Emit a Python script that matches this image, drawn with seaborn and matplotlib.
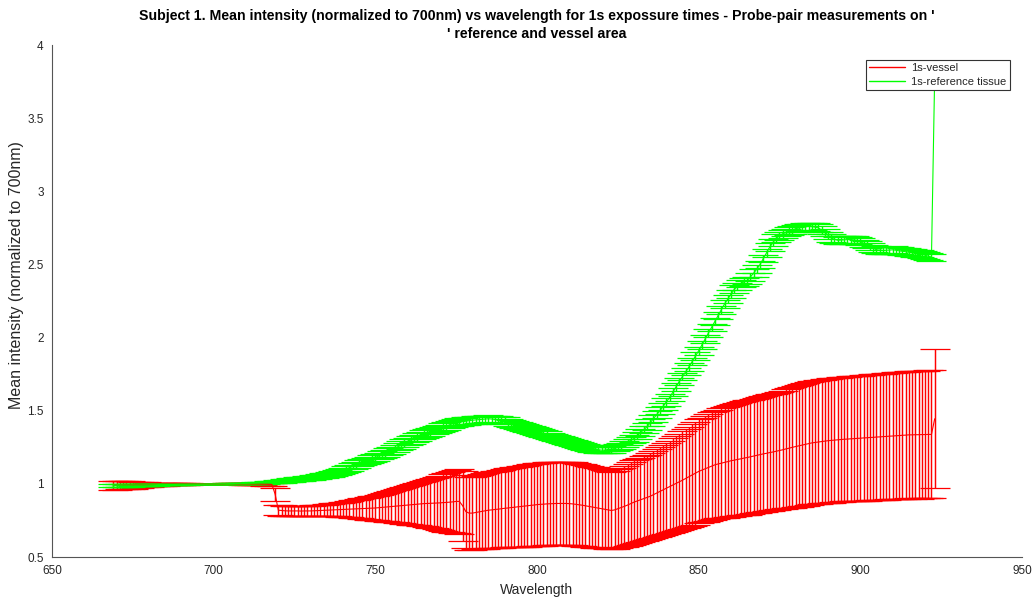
import numpy as np
import pandas as pd
import seaborn as sns
import matplotlib
matplotlib.use("Agg")
import matplotlib.pyplot as plt
from matplotlib.lines import Line2D
from matplotlib.ticker import FuncFormatter

# Wavelength grid (nm), one sample per nm
wavelength = list(range(669, 924))

# 1s-vessel: mean normalized intensity and its error half-width
vessel_mean = [
    0.990,
    0.990, 0.990, 0.991, 0.991, 0.992, 0.992, 0.993, 0.993, 0.994, 0.994,
    0.995, 0.995, 0.996, 0.996, 0.996, 0.997, 0.997, 0.998, 0.998, 0.998,
    0.998, 0.999, 0.999, 0.999, 0.999, 1.000, 1.000, 1.000, 1.000, 1.000,
    1.000, 1.000, 1.000, 1.000, 1.001, 1.001, 1.001, 1.000, 1.000, 1.000,
    1.000, 1.000, 0.999, 0.999, 0.999, 0.998, 0.998, 0.997, 0.996, 0.930,
    0.820, 0.818, 0.816, 0.815, 0.815, 0.815, 0.815, 0.814, 0.815, 0.815,
    0.815, 0.816, 0.817, 0.818, 0.819, 0.820, 0.821, 0.822, 0.823, 0.824,
    0.825, 0.826, 0.827, 0.828, 0.829, 0.830, 0.831, 0.832, 0.833, 0.834,
    0.835, 0.837, 0.839, 0.841, 0.843, 0.845, 0.847, 0.849, 0.851, 0.853,
    0.855, 0.857, 0.859, 0.861, 0.863, 0.865, 0.866, 0.867, 0.868, 0.869,
    0.870, 0.872, 0.873, 0.875, 0.877, 0.880, 0.880, 0.850, 0.810, 0.800,
    0.800, 0.804, 0.808, 0.812, 0.816, 0.820, 0.822, 0.825, 0.827, 0.830,
    0.833, 0.835, 0.838, 0.840, 0.843, 0.845, 0.848, 0.850, 0.853, 0.855,
    0.858, 0.860, 0.861, 0.863, 0.864, 0.865, 0.866, 0.866, 0.866, 0.866,
    0.865, 0.863, 0.860, 0.857, 0.854, 0.850, 0.846, 0.842, 0.838, 0.834,
    0.830, 0.826, 0.822, 0.818, 0.822, 0.830, 0.838, 0.846, 0.855, 0.865,
    0.875, 0.883, 0.891, 0.899, 0.907, 0.915, 0.926, 0.937, 0.948, 0.959,
    0.970, 0.981, 0.992, 1.003, 1.014, 1.025, 1.037, 1.049, 1.061, 1.073,
    1.085, 1.094, 1.103, 1.112, 1.121, 1.130, 1.136, 1.141, 1.147, 1.152,
    1.158, 1.162, 1.167, 1.171, 1.176, 1.180, 1.185, 1.190, 1.195, 1.200,
    1.205, 1.209, 1.214, 1.218, 1.223, 1.228, 1.233, 1.239, 1.244, 1.250,
    1.255, 1.260, 1.265, 1.270, 1.275, 1.280, 1.283, 1.286, 1.289, 1.292,
    1.295, 1.297, 1.299, 1.301, 1.303, 1.305, 1.306, 1.308, 1.309, 1.311,
    1.312, 1.314, 1.315, 1.317, 1.318, 1.320, 1.321, 1.323, 1.324, 1.326,
    1.327, 1.329, 1.330, 1.332, 1.333, 1.335, 1.335, 1.336, 1.336, 1.337,
    1.337, 1.338, 1.338, 1.445,
]
vessel_err = [
    0.030,
    0.029, 0.028, 0.027, 0.026, 0.025, 0.024, 0.022, 0.020, 0.018, 0.016,
    0.014, 0.013, 0.012, 0.011, 0.010, 0.009, 0.008, 0.007, 0.006, 0.005,
    0.005, 0.004, 0.004, 0.003, 0.003, 0.002, 0.002, 0.001, 0.001, 0.000,
    0.000, 0.001, 0.001, 0.002, 0.002, 0.003, 0.003, 0.004, 0.004, 0.005,
    0.005, 0.006, 0.007, 0.007, 0.008, 0.009, 0.010, 0.011, 0.012, 0.045,
    0.035, 0.035, 0.035, 0.035, 0.035, 0.035, 0.036, 0.036, 0.036, 0.037,
    0.037, 0.038, 0.038, 0.039, 0.039, 0.040, 0.042, 0.044, 0.046, 0.048,
    0.050, 0.053, 0.056, 0.059, 0.062, 0.065, 0.069, 0.073, 0.077, 0.081,
    0.085, 0.089, 0.093, 0.097, 0.101, 0.105, 0.110, 0.115, 0.120, 0.125,
    0.130, 0.135, 0.140, 0.145, 0.150, 0.155, 0.161, 0.167, 0.173, 0.179,
    0.185, 0.192, 0.199, 0.205, 0.210, 0.215, 0.220, 0.240, 0.250, 0.250,
    0.250, 0.252, 0.254, 0.256, 0.258, 0.260, 0.261, 0.263, 0.264, 0.266,
    0.268, 0.270, 0.271, 0.273, 0.274, 0.276, 0.277, 0.279, 0.280, 0.281,
    0.282, 0.283, 0.283, 0.284, 0.284, 0.285, 0.285, 0.285, 0.285, 0.285,
    0.285, 0.284, 0.283, 0.282, 0.281, 0.280, 0.278, 0.276, 0.274, 0.272,
    0.270, 0.267, 0.265, 0.263, 0.266, 0.270, 0.273, 0.276, 0.279, 0.282,
    0.285, 0.287, 0.289, 0.291, 0.293, 0.295, 0.298, 0.301, 0.304, 0.307,
    0.310, 0.315, 0.320, 0.325, 0.330, 0.335, 0.339, 0.343, 0.347, 0.351,
    0.355, 0.358, 0.361, 0.364, 0.367, 0.370, 0.372, 0.375, 0.377, 0.380,
    0.382, 0.384, 0.385, 0.387, 0.388, 0.390, 0.391, 0.392, 0.393, 0.394,
    0.395, 0.396, 0.398, 0.399, 0.401, 0.402, 0.405, 0.407, 0.410, 0.412,
    0.415, 0.416, 0.417, 0.418, 0.419, 0.420, 0.421, 0.422, 0.423, 0.424,
    0.425, 0.425, 0.425, 0.425, 0.425, 0.425, 0.426, 0.426, 0.427, 0.427,
    0.428, 0.428, 0.429, 0.429, 0.430, 0.430, 0.431, 0.431, 0.432, 0.432,
    0.433, 0.433, 0.434, 0.434, 0.435, 0.435, 0.436, 0.436, 0.437, 0.437,
    0.437, 0.438, 0.438, 0.475,
]

# 1s-reference tissue: mean normalized intensity and its error half-width
reference_mean = [
    0.990,
    0.990, 0.990, 0.991, 0.991, 0.991, 0.992, 0.992, 0.992, 0.993, 0.993,
    0.993, 0.994, 0.994, 0.995, 0.995, 0.995, 0.996, 0.996, 0.996, 0.997,
    0.997, 0.997, 0.998, 0.998, 0.998, 0.999, 0.999, 0.999, 1.000, 1.000,
    1.000, 1.000, 1.001, 1.001, 1.001, 1.002, 1.002, 1.002, 1.003, 1.003,
    1.003, 1.004, 1.004, 1.005, 1.006, 1.007, 1.008, 1.010, 1.012, 1.013,
    1.015, 1.018, 1.021, 1.024, 1.027, 1.030, 1.032, 1.034, 1.036, 1.038,
    1.040, 1.044, 1.048, 1.052, 1.056, 1.060, 1.066, 1.072, 1.078, 1.084,
    1.090, 1.100, 1.110, 1.120, 1.130, 1.140, 1.148, 1.156, 1.164, 1.172,
    1.180, 1.190, 1.200, 1.210, 1.220, 1.230, 1.242, 1.254, 1.266, 1.278,
    1.290, 1.300, 1.310, 1.320, 1.330, 1.340, 1.348, 1.356, 1.364, 1.372,
    1.380, 1.388, 1.396, 1.404, 1.412, 1.420, 1.423, 1.426, 1.429, 1.432,
    1.435, 1.437, 1.439, 1.441, 1.443, 1.445, 1.443, 1.441, 1.438, 1.434,
    1.430, 1.422, 1.414, 1.406, 1.398, 1.390, 1.384, 1.378, 1.372, 1.366,
    1.360, 1.352, 1.344, 1.336, 1.328, 1.320, 1.313, 1.306, 1.299, 1.292,
    1.285, 1.278, 1.271, 1.264, 1.257, 1.250, 1.246, 1.242, 1.238, 1.234,
    1.230, 1.231, 1.233, 1.235, 1.243, 1.252, 1.260, 1.272, 1.285, 1.298,
    1.310, 1.330, 1.350, 1.370, 1.390, 1.418, 1.445, 1.473, 1.500, 1.530,
    1.560, 1.590, 1.627, 1.663, 1.700, 1.733, 1.767, 1.800, 1.837, 1.873,
    1.910, 1.950, 1.990, 2.030, 2.070, 2.110, 2.150, 2.190, 2.230, 2.263,
    2.297, 2.330, 2.350, 2.370, 2.380, 2.390, 2.415, 2.440, 2.470, 2.500,
    2.540, 2.580, 2.620, 2.650, 2.680, 2.695, 2.710, 2.719, 2.728, 2.736,
    2.745, 2.749, 2.753, 2.756, 2.760, 2.758, 2.755, 2.750, 2.735, 2.720,
    2.700, 2.680, 2.672, 2.665, 2.667, 2.668, 2.670, 2.670, 2.668, 2.665,
    2.655, 2.645, 2.633, 2.620, 2.610, 2.600, 2.598, 2.595, 2.597, 2.598,
    2.600, 2.597, 2.593, 2.590, 2.587, 2.583, 2.580, 2.577, 2.573, 2.570,
    2.563, 2.557, 2.550, 3.800,
]
reference_err = [
    0.012,
    0.012, 0.011, 0.011, 0.010, 0.010, 0.009, 0.009, 0.008, 0.008, 0.007,
    0.007, 0.006, 0.006, 0.005, 0.005, 0.004, 0.004, 0.003, 0.003, 0.003,
    0.002, 0.002, 0.002, 0.001, 0.001, 0.001, 0.001, 0.000, 0.000, 0.000,
    0.000, 0.001, 0.001, 0.001, 0.002, 0.002, 0.002, 0.003, 0.003, 0.003,
    0.004, 0.004, 0.005, 0.005, 0.006, 0.006, 0.007, 0.007, 0.008, 0.008,
    0.009, 0.009, 0.010, 0.010, 0.011, 0.011, 0.012, 0.012, 0.013, 0.013,
    0.014, 0.014, 0.015, 0.015, 0.016, 0.016, 0.017, 0.017, 0.018, 0.018,
    0.019, 0.019, 0.020, 0.020, 0.021, 0.021, 0.022, 0.022, 0.022, 0.023,
    0.023, 0.023, 0.024, 0.024, 0.024, 0.025, 0.025, 0.025, 0.025, 0.026,
    0.026, 0.026, 0.026, 0.026, 0.026, 0.026, 0.026, 0.026, 0.025, 0.025,
    0.025, 0.025, 0.025, 0.025, 0.025, 0.025, 0.025, 0.025, 0.025, 0.025,
    0.025, 0.025, 0.024, 0.024, 0.024, 0.024, 0.024, 0.024, 0.024, 0.024,
    0.024, 0.024, 0.023, 0.023, 0.023, 0.023, 0.023, 0.023, 0.023, 0.023,
    0.023, 0.023, 0.022, 0.022, 0.022, 0.022, 0.022, 0.022, 0.022, 0.022,
    0.022, 0.022, 0.022, 0.021, 0.021, 0.021, 0.021, 0.021, 0.021, 0.021,
    0.021, 0.021, 0.021, 0.021, 0.021, 0.022, 0.022, 0.022, 0.022, 0.022,
    0.022, 0.022, 0.023, 0.023, 0.023, 0.024, 0.024, 0.024, 0.024, 0.025,
    0.025, 0.025, 0.025, 0.025, 0.026, 0.026, 0.026, 0.026, 0.026, 0.026,
    0.026, 0.026, 0.026, 0.026, 0.026, 0.026, 0.026, 0.026, 0.026, 0.026,
    0.026, 0.026, 0.026, 0.026, 0.026, 0.026, 0.026, 0.026, 0.026, 0.026,
    0.026, 0.026, 0.026, 0.026, 0.026, 0.026, 0.026, 0.026, 0.026, 0.026,
    0.025, 0.025, 0.025, 0.025, 0.025, 0.025, 0.025, 0.025, 0.025, 0.025,
    0.025, 0.025, 0.025, 0.025, 0.025, 0.025, 0.025, 0.025, 0.025, 0.025,
    0.024, 0.024, 0.024, 0.024, 0.024, 0.024, 0.024, 0.024, 0.024, 0.024,
    0.024, 0.024, 0.024, 0.024, 0.024, 0.024, 0.024, 0.024, 0.024, 0.024,
    0.024, 0.024, 0.024, 0.030,
]

series_names = ["1s-vessel", "1s-reference tissue"]
series_colors = {"1s-vessel": (1.0, 0.0, 0.0), "1s-reference tissue": (0.0, 1.0, 0.0)}

x_ticks = [650, 700, 750, 800, 850, 900, 950]
y_ticks = [0.5, 1, 1.5, 2, 2.5, 3, 3.5, 4]

title_text = ("Subject 1. Mean intensity (normalized to 700nm) vs wavelength for 1s "
              "expossure times - Probe-pair measurements on '\n' reference and vessel area")

# Long-form table for seaborn
df = pd.concat([
    pd.DataFrame({"Wavelength": wavelength, "Intensity": vessel_mean,
                  "Error": vessel_err, "Series": series_names[0]}),
    pd.DataFrame({"Wavelength": wavelength, "Intensity": reference_mean,
                  "Error": reference_err, "Series": series_names[1]}),
], ignore_index=True)

sns.set_style("white")
plt.rcParams["font.family"] = ["Liberation Sans", "DejaVu Sans"]

fig = plt.figure(figsize=(10.35, 5.99), dpi=100)
ax = fig.add_axes([52 / 1035, 1 - 557 / 599, 970 / 1035, 512 / 599])

# Error bars for each series
for name in series_names:
    sub = df[df["Series"] == name]
    ax.errorbar(sub["Wavelength"].to_numpy(), sub["Intensity"].to_numpy(),
                yerr=sub["Error"].to_numpy(), fmt="none",
                ecolor=series_colors[name], elinewidth=1.05,
                capsize=11, capthick=0.9, zorder=2)

# Mean lines
sns.lineplot(data=df, x="Wavelength", y="Intensity", hue="Series",
             hue_order=series_names, palette=series_colors,
             estimator=None, sort=False, linewidth=0.8, ax=ax, zorder=3,
             legend=False)

ax.set_xlim(650, 950)
ax.set_ylim(0.5, 4)
ax.set_xticks(x_ticks)
ax.set_yticks(y_ticks)
ax.yaxis.set_major_formatter(FuncFormatter(lambda v, p: f"{v:g}"))

text_color = "#262626"
for side in ["top", "right"]:
    ax.spines[side].set_visible(False)
for side in ["left", "bottom"]:
    ax.spines[side].set_color("#555555")
    ax.spines[side].set_linewidth(0.8)
ax.tick_params(axis="both", direction="in", length=6, width=0.8,
               color="#555555", labelsize=8.5, labelcolor=text_color, pad=6)

ax.set_xlabel("Wavelength", fontsize=10, color=text_color, labelpad=4)
ax.set_ylabel("Mean intensity (normalized to 700nm)", fontsize=11.5,
              color=text_color)
ax.yaxis.set_label_coords(-0.029, 0.55)
ax.set_title(title_text, fontsize=10.2, fontweight="bold", color="#000000",
             pad=5, linespacing=1.35)

handles = [Line2D([0], [0], color=series_colors[n], linewidth=1.0)
           for n in series_names]
leg = ax.legend(handles, series_names, loc="upper right",
                bbox_to_anchor=(0.9876, 0.9707), borderaxespad=0,
                fontsize=8, frameon=True, fancybox=False, framealpha=1,
                edgecolor="#333333", handlelength=3.2, handletextpad=0.6,
                borderpad=0.3, labelspacing=0.3)
leg.get_frame().set_linewidth(0.8)
leg.set_zorder(10)

fig.savefig("out.png", dpi=100, facecolor="white")
